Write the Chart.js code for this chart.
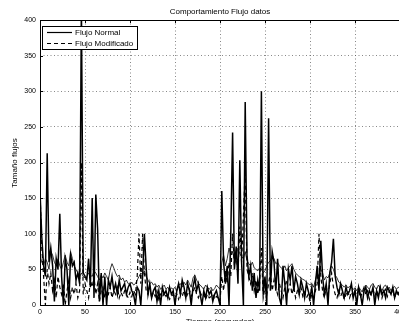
<!DOCTYPE html>
<html>
<head>
<meta charset="utf-8">
<script src="https://cdn.jsdelivr.net/npm/chart.js@4.4.1/dist/chart.umd.min.js"></script>
<style>
  html, body { margin: 0; padding: 0; background: #fff; overflow: hidden; }
  #wrap { width: 399px; height: 321px; overflow: hidden; }
</style>
</head>
<body>
<div id="wrap"><canvas id="flujoChart" width="430" height="321"></canvas></div>
<script>
// muestras cada 2 unidades de tiempo, de 0 a 400
const sampleStep = 2;

// Flujo Normal (linea gruesa con picos)
const flujoNormal = [
  160, 95, 55, 40, 213, 60, 80, 55, 5, 65,
  50, 128, 40, 0, 65, 50, 0, 70, 55, 60,
  35, 45, 30, 420, 45, 40, 35, 65, 25, 150,
  10, 155, 107, 5, 45, 0, 40, 0, 35, 25,
  40, 20, 30, 15, 35, 20, 25, 30, 15, 25,
  30, 20, 15, 0, 25, 20, 0, 40, 100, 52,
  15, 30, 10, 20, 25, 5, 20, 0, 25, 15,
  20, 10, 25, 15, 20, 0, 20, 30, 15, 35,
  25, 10, 30, 20, 0, 25, 38, 20, 30, 15,
  0, 20, 10, 25, 15, 20, 5, 15, 20, 10,
  0, 160, 60, 30, 55, 0, 100, 242, 50, 82,
  30, 203, 60, 0, 285, 70, 40, 55, 20, 45,
  10, 35, 20, 300, 15, 40, 0, 262, 20, 75,
  60, 20, 65, 10, 0, 55, 30, 0, 50, 35,
  55, 20, 40, 30, 15, 35, 25, 10, 30, 20,
  10, 25, 0, 30, 55, 20, 90, 40, 15, 30,
  0, 45, 60, 93, 40, 25, 15, 30, 20, 10,
  25, 15, 20, 30, 10, 20, 0, 25, 15, 0,
  20, 25, 10, 20, 15, 25, 0, 20, 10, 25,
  15, 20, 10, 25, 20, 15, 25, 10, 20, 15,
  20
];

// linea fina sin leyenda (nivel medio)
const flujoMedio = [
  70, 60, 55, 65, 60, 50, 75, 70, 60, 55,
  65, 55, 50, 60, 70, 60, 55, 75, 65, 55,
  50, 45, 40, 45, 40, 38, 40, 45, 42, 40,
  48, 45, 40, 35, 42, 38, 45, 40, 35, 50,
  58, 52, 45, 40, 42, 35, 38, 32, 35, 30,
  28, 32, 28, 30, 35, 40, 45, 42, 48, 40,
  35, 30, 32, 28, 30, 25, 28, 22, 25, 28,
  22, 25, 20, 24, 22, 25, 20, 28, 30, 25,
  32, 28, 35, 30, 25, 38, 42, 35, 30, 28,
  25, 22, 28, 25, 22, 25, 20, 23, 28, 25,
  22, 60, 70, 55, 65, 80, 70, 75, 65, 70,
  80, 72, 68, 65, 75, 62, 58, 55, 60, 52,
  50, 48, 52, 50, 45, 48, 55, 60, 62, 70,
  65, 58, 60, 55, 52, 50, 55, 48, 52, 55,
  58, 50, 45, 42, 40, 38, 36, 35, 32, 30,
  28, 30, 25, 35, 45, 40, 50, 45, 35, 40,
  38, 45, 55, 50, 42, 38, 32, 30, 28, 25,
  28, 24, 26, 25, 22, 24, 20, 25, 22, 18,
  22, 28, 25, 22, 28, 30, 25, 22, 28, 24,
  20, 26, 28, 22, 25, 20, 24, 26, 22, 25,
  24
];

// Flujo Modificado (discontinua)
const flujoModificado = [
  160, 80, 40, 0, 50, 30, 45, 20, 35, 10,
  40, 25, 15, 30, 0, 20, 35, 10, 25, 15,
  30, 10, 20, 200, 15, 30, 20, 10, 35, 25,
  40, 15, 30, 5, 20, 25, 10, 20, 15, 25,
  10, 20, 15, 25, 10, 18, 12, 20, 15, 10,
  18, 12, 20, 15, 40, 100, 30, 100, 45, 20,
  15, 25, 10, 18, 12, 20, 8, 15, 10, 18,
  12, 15, 8, 12, 15, 10, 15, 8, 18, 12,
  20, 10, 15, 22, 12, 18, 25, 15, 10, 18,
  12, 15, 8, 15, 10, 12, 15, 8, 12, 10,
  5, 40, 20, 50, 30, 60, 40, 100, 55, 70,
  45, 110, 60, 125, 190, 50, 40, 30, 45, 20,
  35, 15, 30, 80, 10, 25, 15, 30, 45, 20,
  35, 25, 15, 30, 20, 10, 25, 35, 20, 30,
  15, 25, 10, 20, 15, 25, 12, 18, 10, 15,
  5, 15, 10, 20, 30, 100, 40, 20, 10, 25,
  15, 30, 45, 25, 15, 10, 20, 12, 18, 8,
  15, 20, 10, 18, 12, 20, 15, 22, 10, 18,
  25, 15, 20, 8, 18, 22, 12, 20, 15, 25,
  10, 18, 22, 12, 20, 15, 22, 10, 18, 15,
  20
];

const xTicks = [0, 50, 100, 150, 200, 250, 300, 350, 400];
const yTicks = [0, 50, 100, 150, 200, 250, 300, 350, 400];

const titulo = 'Comportamiento Flujo datos';
const etiquetaY = 'Tamaño flujos';
const etiquetaX = 'Tiempo (segundos)';
const leyenda = ['Flujo Normal', 'Flujo Modificado'];

const FONT = '"Liberation Sans", Arial, Helvetica, sans-serif';

function toPoints(arr) {
  return arr.map((v, i) => ({ x: i * sampleStep, y: v }));
}

// titulo, etiquetas, marco, marcas internas y leyenda estilo matlab
const decor = {
  id: 'decor',
  afterDraw(chart) {
    const { ctx, chartArea: a, scales } = chart;
    ctx.save();
    ctx.strokeStyle = '#000';
    ctx.fillStyle = '#000';
    ctx.lineWidth = 1;

    // marco
    ctx.strokeRect(Math.round(a.left) + 0.5, Math.round(a.top) + 0.5,
      Math.round(a.right - a.left), Math.round(a.bottom - a.top));

    // marcas hacia dentro
    ctx.beginPath();
    xTicks.forEach(t => {
      const px = Math.round(scales.x.getPixelForValue(t)) + 0.5;
      ctx.moveTo(px, a.bottom); ctx.lineTo(px, a.bottom - 3);
      ctx.moveTo(px, a.top); ctx.lineTo(px, a.top + 3);
    });
    yTicks.forEach(t => {
      const py = Math.round(scales.y.getPixelForValue(t)) + 0.5;
      ctx.moveTo(a.left, py); ctx.lineTo(a.left + 3, py);
    });
    ctx.stroke();

    // titulo
    ctx.font = '8px ' + FONT;
    ctx.textAlign = 'center';
    ctx.textBaseline = 'middle';
    ctx.fillText(titulo, 220, 12);

    // etiqueta eje x (cortada por abajo)
    ctx.fillText(etiquetaX, 220, 322);

    // etiqueta eje y
    ctx.save();
    ctx.translate(15, 163);
    ctx.rotate(-Math.PI / 2);
    ctx.fillText(etiquetaY, 0, 0);
    ctx.restore();

    // leyenda
    const lx = 42.5, ly = 26.5, lw = 95, lh = 23;
    ctx.fillStyle = '#fff';
    ctx.fillRect(lx, ly, lw, lh);
    ctx.strokeRect(lx, ly, lw, lh);
    ctx.fillStyle = '#000';
    ctx.textAlign = 'left';
    ctx.beginPath();
    ctx.lineWidth = 1.2;
    ctx.moveTo(47, 32.5); ctx.lineTo(72, 32.5);
    ctx.stroke();
    ctx.beginPath();
    ctx.setLineDash([4, 3]);
    ctx.moveTo(47, 43.5); ctx.lineTo(72, 43.5);
    ctx.stroke();
    ctx.setLineDash([]);
    ctx.fillText(leyenda[0], 75, 33);
    ctx.fillText(leyenda[1], 75, 44);

    ctx.restore();
  }
};

const ctx = document.getElementById('flujoChart');
new Chart(ctx, {
  type: 'line',
  data: {
    datasets: [
      {
        label: leyenda[0],
        data: toPoints(flujoNormal),
        borderColor: '#000',
        borderWidth: 1.5,
        pointRadius: 0,
        tension: 0
      },
      {
        label: 'medio',
        data: toPoints(flujoMedio),
        borderColor: '#000',
        borderWidth: 0.8,
        pointRadius: 0,
        tension: 0
      },
      {
        label: leyenda[1],
        data: toPoints(flujoModificado),
        borderColor: '#000',
        borderWidth: 1.2,
        borderDash: [4, 3],
        pointRadius: 0,
        tension: 0
      }
    ]
  },
  options: {
    responsive: false,
    animation: false,
    devicePixelRatio: 1,
    layout: {
      padding: { left: 0, top: 20, right: 30, bottom: 0 }
    },
    scales: {
      x: {
        type: 'linear',
        min: 0,
        max: 400,
        afterBuildTicks: s => { s.ticks = xTicks.map(v => ({ value: v })); },
        afterFit: s => { s.height = 16; },
        grid: { color: '#555', lineWidth: 0.7, drawTicks: false },
        border: { display: false, dash: [1, 2.5] },
        ticks: {
          color: '#000',
          padding: 3,
          maxRotation: 0,
          font: { size: 7, family: FONT }
        }
      },
      y: {
        min: 0,
        max: 400,
        afterBuildTicks: s => { s.ticks = yTicks.map(v => ({ value: v })); },
        afterFit: s => { s.width = 40; },
        grid: { color: '#555', lineWidth: 0.7, drawTicks: false },
        border: { display: false, dash: [1, 2.5] },
        ticks: {
          color: '#000',
          padding: 4,
          font: { size: 7, family: FONT }
        }
      }
    },
    plugins: {
      legend: { display: false },
      title: { display: false },
      tooltip: { enabled: false }
    }
  },
  plugins: [decor]
});
</script>
</body>
</html>
